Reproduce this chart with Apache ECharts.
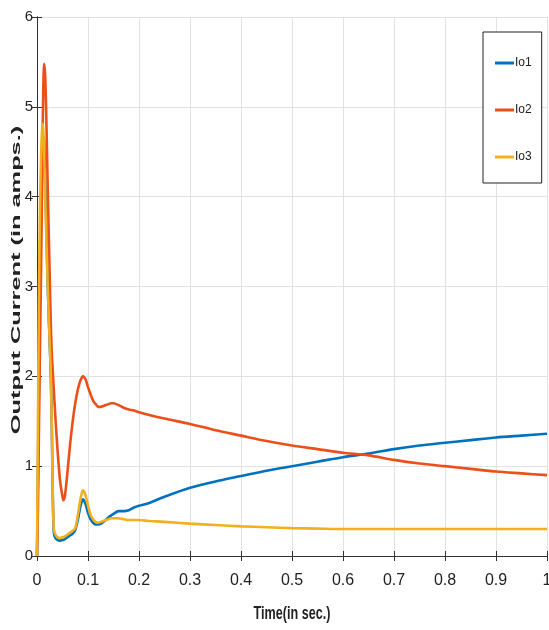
<!DOCTYPE html>
<html>
<head>
<meta charset="utf-8">
<script src="https://cdn.jsdelivr.net/npm/echarts@6/dist/echarts.min.js"></script>
<style>
  html, body { margin: 0; padding: 0; background: #ffffff; }
  #chart { width: 549px; height: 630px; }
</style>
</head>
<body>
<div id="chart"></div>
<script>
// Sample times (s)
var time = [0, 0.002, 0.004, 0.006, 0.008, 0.010, 0.011, 0.012, 0.013, 0.014,
  0.016, 0.018, 0.020, 0.022, 0.025, 0.027, 0.029, 0.031, 0.033, 0.036,
  0.040, 0.045, 0.050, 0.052, 0.055, 0.060, 0.065, 0.070, 0.075, 0.080,
  0.085, 0.090, 0.095, 0.100, 0.105, 0.110, 0.115, 0.120, 0.125, 0.130,
  0.135, 0.140, 0.145, 0.150, 0.160, 0.170, 0.180, 0.190, 0.200, 0.22,
  0.25, 0.30, 0.35, 0.40, 0.45, 0.50, 0.55, 0.60, 0.65, 0.70,
  0.75, 0.80, 0.85, 0.90, 0.95, 1.0];

// Output currents (A)
var io1 = [0, 1.0, 2.0, 3.0, 3.8, 4.35, 4.55, 4.65, 4.67, 4.6,
  4.2, 3.7, 3.25, 2.85, 2.35, 2.05, 1.45, 0.65, 0.26, 0.2,
  0.18, 0.17, 0.18, 0.18, 0.19, 0.21, 0.23, 0.25, 0.29, 0.40,
  0.55, 0.63, 0.58, 0.48, 0.41, 0.37, 0.35, 0.35, 0.36, 0.38,
  0.40, 0.43, 0.45, 0.47, 0.50, 0.50, 0.51, 0.54, 0.56, 0.59,
  0.66, 0.76, 0.83, 0.89, 0.95, 1.00, 1.05, 1.10, 1.14, 1.19,
  1.23, 1.26, 1.29, 1.32, 1.34, 1.36];

var io2 = [0, 0.6, 1.5, 2.4, 3.2, 4.2, 4.7, 5.1, 5.38, 5.48,
  5.35, 4.95, 4.4, 3.85, 3.1, 2.6, 2.25, 2.05, 1.85, 1.55,
  1.2, 0.85, 0.66, 0.62, 0.68, 0.95, 1.25, 1.5, 1.7, 1.85,
  1.95, 2.0, 1.97, 1.88, 1.8, 1.73, 1.69, 1.66, 1.66, 1.67,
  1.68, 1.69, 1.70, 1.70, 1.68, 1.65, 1.63, 1.62, 1.60, 1.57,
  1.53, 1.47, 1.40, 1.34, 1.28, 1.23, 1.19, 1.15, 1.12, 1.07,
  1.03, 1.00, 0.97, 0.94, 0.92, 0.90];

var io3 = [0, 1.6, 3.0, 3.9, 4.45, 4.76, 4.81, 4.76, 4.65, 4.5,
  4.05, 3.6, 3.2, 2.85, 2.35, 2.05, 1.45, 0.7, 0.3, 0.24,
  0.21, 0.20, 0.21, 0.21, 0.22, 0.24, 0.26, 0.28, 0.31, 0.45,
  0.63, 0.73, 0.68, 0.56, 0.46, 0.41, 0.38, 0.37, 0.38, 0.39,
  0.40, 0.41, 0.42, 0.42, 0.42, 0.41, 0.40, 0.40, 0.40, 0.39,
  0.38, 0.36, 0.345, 0.33, 0.32, 0.31, 0.305, 0.30, 0.30, 0.30,
  0.30, 0.30, 0.30, 0.30, 0.30, 0.30];

var seriesNames = ['Io1', 'Io2', 'Io3'];
var xTicks = [0, 0.1, 0.2, 0.3, 0.4, 0.5, 0.6, 0.7, 0.8, 0.9, 1];
var yTicks = [0, 1, 2, 3, 4, 5, 6];

var colors = ['#0072BD', '#EC4F1A', '#F2B01E'];
var narrow = '"Liberation Sans Narrow", "Liberation Sans", Arial, sans-serif';

function pairs(ys) {
  return time.map(function (t, i) { return [t, ys[i]]; });
}

var axisLine = { show: true, lineStyle: { color: '#333333', width: 1 } };
var innerTick = { show: true, inside: true, length: 5, lineStyle: { color: '#333333' } };

var chart = echarts.init(document.getElementById('chart'), null, { renderer: 'canvas' });

chart.setOption({
  animation: false,
  backgroundColor: '#ffffff',
  color: colors,
  grid: { left: 37, right: 2, top: 17, bottom: 74, containLabel: false, outerBoundsMode: 'none' },
  legend: {
    orient: 'vertical',
    left: 483,
    top: 32,
    padding: [24, 10, 19, 12],
    itemGap: 33,
    itemWidth: 19,
    itemHeight: 3,
    icon: 'rect',
    backgroundColor: '#ffffff',
    borderColor: '#222222',
    borderWidth: 1,
    textStyle: { fontFamily: narrow, fontSize: 12, color: '#222222', padding: [0, 0, 0, -4], lineHeight: 14 },
    data: seriesNames
  },
  xAxis: [{
    type: 'value',
    min: xTicks[0],
    max: xTicks[xTicks.length - 1],
    interval: xTicks[1] - xTicks[0],
    axisLine: axisLine,
    axisTick: innerTick,
    axisLabel: { margin: 17, fontFamily: narrow, fontSize: 16, color: '#222222' },
    splitLine: { show: true, lineStyle: { color: '#e2e2e2', width: 1 } }
  }, {
    type: 'value',
    position: 'top',
    min: xTicks[0],
    max: xTicks[xTicks.length - 1],
    interval: xTicks[1] - xTicks[0],
    axisLine: axisLine,
    axisTick: innerTick,
    axisLabel: { show: false },
    splitLine: { show: false }
  }],
  yAxis: [{
    type: 'value',
    min: yTicks[0],
    max: yTicks[yTicks.length - 1],
    interval: yTicks[1] - yTicks[0],
    axisLine: axisLine,
    axisTick: innerTick,
    axisLabel: { margin: 4, fontFamily: narrow, fontSize: 15, color: '#222222' },
    splitLine: { show: true, lineStyle: { color: '#e2e2e2', width: 1 } }
  }, {
    type: 'value',
    position: 'right',
    min: yTicks[0],
    max: yTicks[yTicks.length - 1],
    interval: yTicks[1] - yTicks[0],
    axisLine: axisLine,
    axisTick: innerTick,
    axisLabel: { show: false },
    splitLine: { show: false }
  }],
  series: [io1, io2, io3].map(function (ys, i) {
    return {
      name: seriesNames[i],
      type: 'line',
      data: pairs(ys),
      showSymbol: false,
      symbol: 'none',
      smooth: 0.25,
      lineStyle: { width: 2.6, color: colors[i] },
      itemStyle: { color: colors[i] },
      xAxisIndex: 0,
      yAxisIndex: 0
    };
  }),
  graphic: [{
    type: 'text',
    x: 16,
    y: 280,
    rotation: Math.PI / 2,
    scaleX: 1.95,
    style: {
      text: 'Output Current (in amps.)',
      font: 'bold 13px "Liberation Sans", Arial, sans-serif',
      fill: '#222222',
      textAlign: 'center',
      textVerticalAlign: 'middle'
    }
  }, {
    type: 'text',
    x: 292,
    y: 614,
    scaleX: 0.7,
    style: {
      text: 'Time(in sec.)',
      font: 'bold 18px ' + narrow,
      fill: '#222222',
      textAlign: 'center',
      textVerticalAlign: 'middle'
    }
  }]
});
</script>
</body>
</html>
